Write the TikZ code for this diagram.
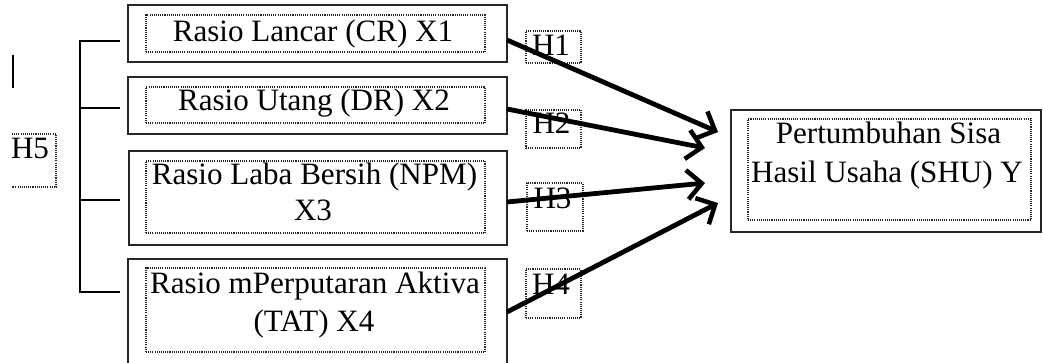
\documentclass[tikz,border=0pt]{standalone}
\usepackage{fontspec}
\setmainfont{Liberation Serif}
\usetikzlibrary{arrows.meta,calc,fit}
\tikzset{
  obox/.style={draw=black!85, line width=1.2pt, inner sep=0pt, outer sep=0pt},
  ibox/.style={draw=black!85, line width=1pt, dash pattern=on 0.8pt off 0.8pt, inner sep=0pt, outer sep=0pt},
  txt/.style={inner sep=0pt, anchor=base, font=\fontsize{23.3}{28}\selectfont},
  brk/.style={draw=black, line width=1.1pt},
  arr/.style={draw=black, line width=3.6pt, -{Straight Barb[length=11pt,width=22pt,line width=3.4pt]}}
}
\begin{document}
\begin{tikzpicture}[x=0.75pt,y=-0.75pt]
\clip (0,0) rectangle (1043,362);
\fill[white] (0,0) rectangle (1043,362);

% independent variable boxes
\node[obox, fit={(128,5) (507,62)}] (x1) {};
\node[ibox, fit={(146,15) (485,52)}] (x1i) {};
\node[txt] (x1t) at (313,41) {Rasio Lancar (CR) X1};

\node[obox, fit={(128,77) (507,134)}] (x2) {};
\node[ibox, fit={(146,87) (485,123)}] (x2i) {};
\node[txt] (x2t) at (314,110) {Rasio Utang (DR) X2};

\node[obox, fit={(129,151) (507,245)}] (x3) {};
\node[ibox, fit={(146,161) (485,233)}] (x3i) {};
\node[txt] (x3t) at (314.5,184) {Rasio Laba Bersih (NPM)};
\node[txt] (x3u) at (313,220) {X3};

\node[obox, fit={(128,259) (507,372)}] (x4) {};
\node[ibox, fit={(146,268) (485,352)}] (x4i) {};
\node[txt] (x4t) at (315,293) {Rasio mPerputaran Aktiva};
\node[txt] (x4u) at (314,331) {(TAT) X4};

% dependent variable box
\node[obox, fit={(731,110) (1041,232)}] (y) {};
\node[ibox, fit={(748,119) (1031,220)}] (yi) {};
\node[txt] (yt) at (888.5,143) {Pertumbuhan Sisa};
\node[txt] (yu) at (887,182) {Hasil Usaha (SHU) Y};

% hypothesis labels
\node[ibox, fit={(526,31) (581,63)}] (h1b) {};
\node[txt] (h1) at (551,55) {H1};
\node[ibox, fit={(526,110) (581,148)}] (h2b) {};
\node[txt] (h2) at (551.5,133) {H2};
\node[ibox, fit={(527,183) (583,231)}] (h3b) {};
\node[txt] (h3) at (552.5,208) {H3};
\node[ibox, fit={(526,269) (581,318)}] (h4b) {};
\node[txt] (h4) at (551,294) {H4};
\node[txt] (h5) at (30,158) {H5};
\draw[ibox] (12,134) -- (56,134) -- (56,187) -- (12,187);

% short mark at the left
\coordinate (m1) at (13,55);
\coordinate (m2) at (13,88);
\draw[brk] (m1) -- (m2);

% bracket joining the four ratios
\coordinate (b1) at ($(x1.west)+(-8,7.5)$);
\coordinate (b2) at ($(x2.west)+(-8,2.5)$);
\coordinate (b3) at ($(x3.west)+(-9,2)$);
\coordinate (b4) at ($(x4.north west)+(-8,33)$);
\draw[brk] (b1) -- ++(-40,0) |- (b4);
\draw[brk] (b2) -- ++(-40,0);
\draw[brk] (b3) -- ++(-41,0);

% arrows towards the dependent variable
\coordinate (t1) at (718,132);
\coordinate (t2) at (705,148);
\coordinate (t3) at (705,183);
\coordinate (t4) at (718,203);
\draw[arr] ($(x1.east)+(0,6.5)$) -- (t1);
\draw[arr] ($(x2.east)+(0,3.5)$) -- (t2);
\draw[arr] ($(x3.east)+(0,4)$) -- (t3);
\draw[arr] ($(x4.north east)+(0,53)$) -- (t4);
\end{tikzpicture}
\end{document}
